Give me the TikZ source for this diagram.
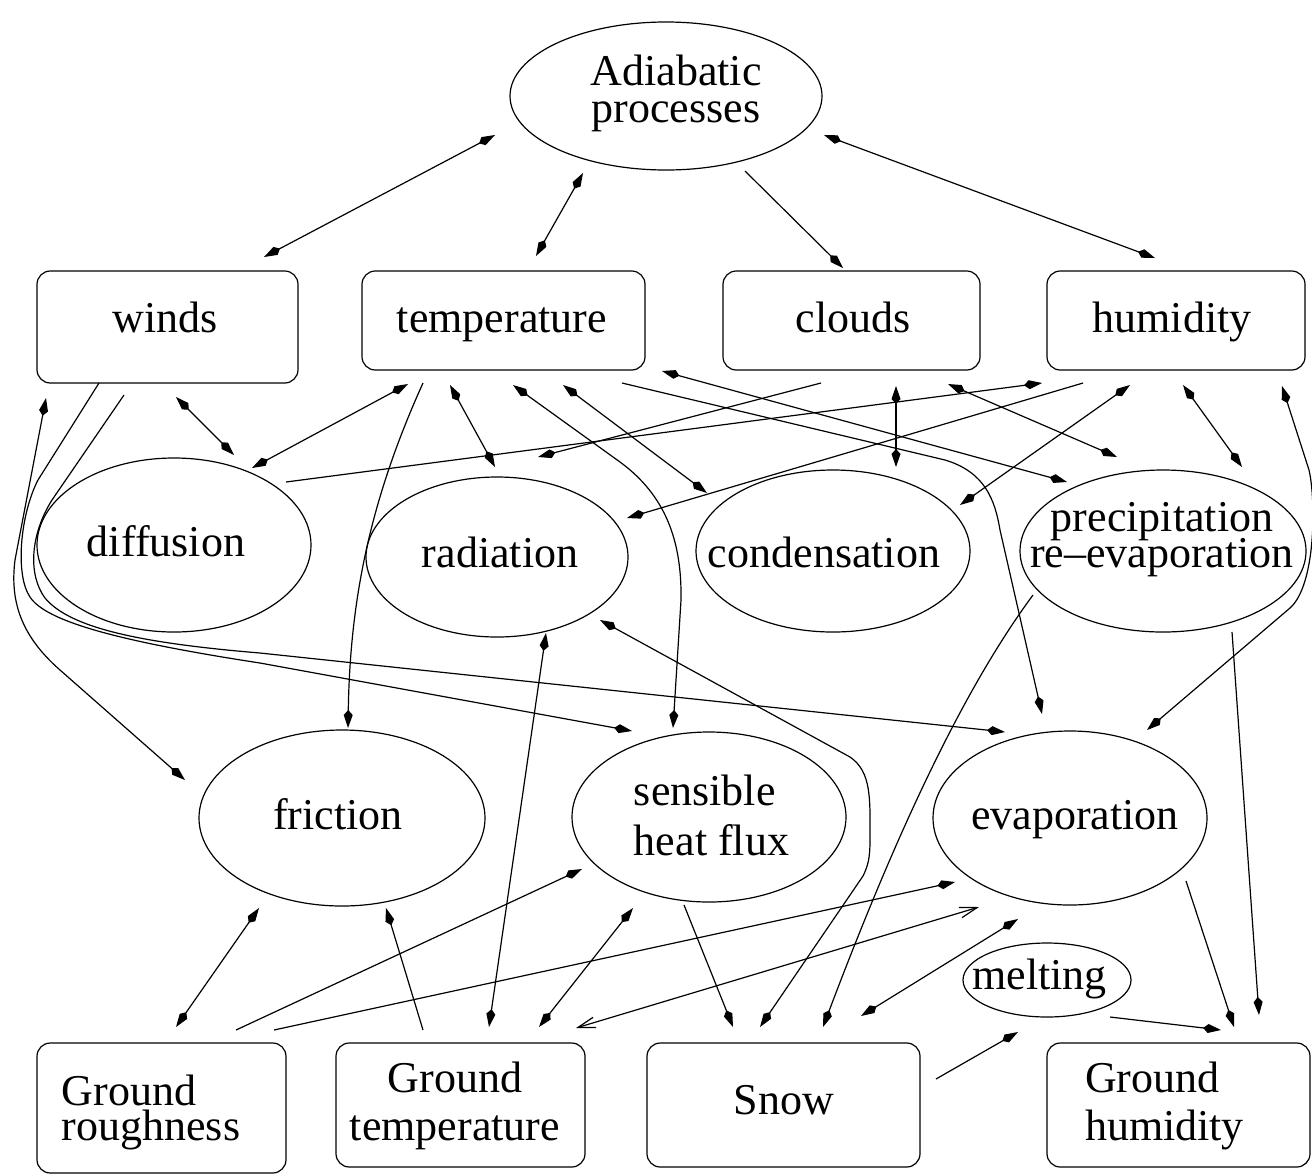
\documentclass[tikz,border=0pt]{standalone}
\usepackage{fontspec}
\setmainfont{Liberation Serif}
\usepackage{tikz}
\usetikzlibrary{arrows.meta}
\usetikzlibrary{calc}
\usetikzlibrary{shapes.geometric}

\begin{document}
\begin{tikzpicture}[x=0.75pt,y=0.75pt,yscale=-1,
  font=\fontsize{33}{36}\selectfont,
  >={Kite[length=13.5pt,width=6.75pt,inset=3.75pt]},
  box/.style={draw,rectangle,rounded corners=10pt,inner sep=0pt,outer sep=0pt,line width=0.9pt},
  oval/.style={draw,ellipse,inner sep=0pt,outer sep=0pt,line width=0.9pt},
  word/.style={inner sep=0pt,text height=24pt,text depth=5pt},
  stack/.style={inner sep=0pt,font={\fontsize{33}{#1}\selectfont\lineskiplimit=-100pt}},
  link/.style={line width=0.9pt},
  hollow/.style={arrows={Straight Barb[length=13pt,width=8pt]-Straight Barb[length=13pt,width=8pt]}}]
\useasboundingbox (0,0) rectangle (1312,1175);

% shapes
\node[oval,minimum width=234pt,minimum height=111pt] (adiab) at (666,96) {};
\node[box,minimum width=195.75pt,minimum height=84pt] (winds) at (167.5,327) {};
\node[box,minimum width=212.25pt,minimum height=74.25pt] (temp) at (503.5,320.5) {};
\node[box,minimum width=192.75pt,minimum height=74.25pt] (clouds) at (851.5,320.5) {};
\node[box,minimum width=193.5pt,minimum height=74.25pt] (humid) at (1176,320.5) {};
\node[oval,minimum width=205.5pt,minimum height=130.5pt] (diffusion) at (174,545) {};
\node[oval,minimum width=196.5pt,minimum height=120pt] (radiation) at (497,557) {};
\node[oval,minimum width=205.5pt,minimum height=121.5pt] (condens) at (833,551) {};
\node[oval,minimum width=214.5pt,minimum height=121.5pt] (precip) at (1163,551) {};
\node[oval,minimum width=214.5pt,minimum height=132pt] (friction) at (342,818) {};
\node[oval,minimum width=205.5pt,minimum height=127.5pt] (sensible) at (709,817) {};
\node[oval,minimum width=205.5pt,minimum height=130.5pt] (evap) at (1070,818) {};
\node[oval,minimum width=126pt,minimum height=55.5pt] (melting) at (1047,980) {};
\node[box,minimum width=186.75pt,minimum height=97.5pt] (groundr) at (161.5,1108) {};
\node[box,minimum width=186.75pt,minimum height=93pt] (groundt) at (460.5,1105) {};
\node[box,minimum width=204.75pt,minimum height=93pt] (snow) at (783.5,1105) {};
\node[box,minimum width=197.25pt,minimum height=93pt] (groundh) at (1178.5,1105) {};

% texts
\node[stack=27.75pt,align=center] (adiab-t) at (676,93) {Adiabatic\\processes};
\node[word] (winds-t) at (165,320) {winds};
\node[word] (temp-t) at (502,320) {temperature};
\node[word] (clouds-t) at (853,320) {clouds};
\node[word] (humid-t) at (1172,320) {humidity};
\node[word] (diffusion-t) at (166,544) {diffusion};
\node[word] (radiation-t) at (500,555) {radiation};
\node[word] (condens-t) at (824,555) {condensation};
\node[stack=27pt,align=center] (precip-t) at (1162,540) {precipitation\\re--evaporation};
\node[word] (friction-t) at (338,817) {friction};
\node[stack=37.5pt,align=left] (sensible-t) at (711.5,815) {sensible\\heat flux};
\node[word] (evap-t) at (1075,817) {evaporation};
\node[word] (melting-t) at (1039.5,977) {melting};
\node[stack=26.25pt,align=left] (groundr-t) at (151,1112) {Ground\\roughness};
\node[stack=36pt,align=center] (groundt-t) at (455,1106) {Ground\\temperature};
\node[word] (snow-t) at (784,1102) {Snow};
\node[stack=36pt,align=left] (groundh-t) at (1164.5,1106) {Ground\\humidity};

% top links
\draw[link,<->] ($(adiab)+(-171,39)$) -- ($(winds)+(96.5,-70)$);
\draw[link,<->] ($(adiab)+(-83,77)$) -- ($(temp)+(32.5,-64.5)$);
\draw[link,->] ($(adiab)+(79,75)$) -- ($(clouds)+(-8.5,-52.5)$);
\draw[link,<->] ($(adiab)+(158,39)$) -- ($(humid)+(-21,-62.5)$);

% middle links
\draw[link,<->] ($(winds)+(8.5,70)$) -- ($(diffusion)+(60,-90)$);
\draw[link,<->] ($(temp)+(-95.5,63.5)$) -- ($(diffusion)+(78,-77)$);
\draw[link,->] ($(diffusion)+(112,-63)$) -- ($(humid)+(-134,62.5)$);
\draw[link,->] ($(clouds)+(-30.5,62.5)$) -- ($(radiation)+(41,-100)$);
\draw[link,<->] ($(temp)+(-53.5,64.5)$) -- ($(radiation)+(-2,-90)$);
\draw[link,<->] ($(temp)+(59.5,64.5)$) -- ($(condens)+(-126,-58)$);
\draw[link,<->] ($(temp)+(9.5,64.5)$) -- (620,462) .. controls (665,495) and (682,540) .. (681,600) -- ($(sensible)+(-36,-89)$);
\draw[link,->] ($(temp)+(-80.5,62.5)$) .. controls (370,500) and (350,600) .. ($(friction)+(6,-90)$);
\draw[link,->] ($(humid)+(-93,62.5)$) -- ($(radiation)+(130,-39)$);
\draw[link,<->] ($(clouds)+(44.5,65.5)$) -- ($(condens)+(63,-84)$);
\draw[link,<->] ($(temp)+(158.5,50.5)$) -- ($(precip)+(-96,-69)$);
\draw[link,<->] ($(clouds)+(96.5,63.5)$) -- ($(precip)+(-46,-94)$);
\draw[link,->] ($(temp)+(118.5,62.5)$) -- (945,460) .. controls (985,472) and (995,500) .. (1000,530) -- ($(evap)+(-28,-104)$);
\draw[link,<->] ($(humid)+(-46,64.5)$) -- ($(condens)+(127,-46)$);
\draw[link,<->] ($(humid)+(7,64.5)$) -- ($(precip)+(79,-84)$);
\draw[link,<->] ($(humid)+(106,65.5)$) -- (1309,470) .. controls (1316,500) and (1316,585) .. (1290,608) -- ($(evap)+(77,-88)$);
\draw[link,<->] ($(winds)+(-121.5,71)$) -- (15,560) .. controls (10,600) and (20,635) .. (60,670) -- ($(friction)+(-157,-38)$);
\draw[link,->] ($(winds)+(-68.5,56)$) -- (38,480) .. controls (20,515) and (15,575) .. (30,597) .. controls (45,620) and (110,640) .. (260,663) -- ($(sensible)+(-77,-86)$);
\draw[link,->] ($(winds)+(-43.5,68)$) -- (52,500) .. controls (30,535) and (28,575) .. (45,598) .. controls (70,628) and (140,643) .. (260,653) -- ($(evap)+(-65,-86)$);

% lower links
\draw[link,<->] ($(radiation)+(49,76)$) -- ($(groundt)+(28.5,-78)$);
\draw[link,<->] ($(radiation)+(103,63)$) -- (850,757) .. controls (872,772) and (870,800) .. (870,840) .. controls (870,858) and (868,866) .. (863,876) -- ($(snow)+(-23.5,-78)$);
\draw[link,->] ($(precip)+(-130,44)$) .. controls (959,695) and (891,847) .. ($(snow)+(39.5,-78)$);
\draw[link,->] ($(precip)+(69,81)$) -- ($(groundh)+(80.5,-90)$);
\draw[link,->] ($(evap)+(116,63)$) -- ($(groundh)+(55.5,-78)$);
\draw[link,->] ($(melting)+(63,37)$) -- ($(groundh)+(42.5,-75)$);
\draw[link,->] ($(snow)+(152.5,-26)$) -- ($(melting)+(-29,52)$);
\draw[link,<->] ($(snow)+(77.5,-89)$) -- ($(evap)+(-52,101)$);
\draw[link,->] ($(sensible)+(-25,88)$) -- ($(snow)+(-50.5,-78)$);
\draw[link,<->] ($(sensible)+(-76,91)$) -- ($(groundt)+(78.5,-78)$);
\draw[link,hollow] ($(groundt)+(115.5,-77)$) -- ($(evap)+(-91,89)$);
\draw[link,->] ($(groundr)+(112.5,-78)$) -- ($(evap)+(-115,64)$);
\draw[link,->] ($(groundr)+(74.5,-78)$) -- ($(sensible)+(-127,52)$);
\draw[link,<->] ($(friction)+(-83,90)$) -- ($(groundr)+(14.5,-81)$);
\draw[link,->] ($(groundt)+(-37.5,-75)$) -- ($(friction)+(44,90)$);
\end{tikzpicture}
\end{document}
